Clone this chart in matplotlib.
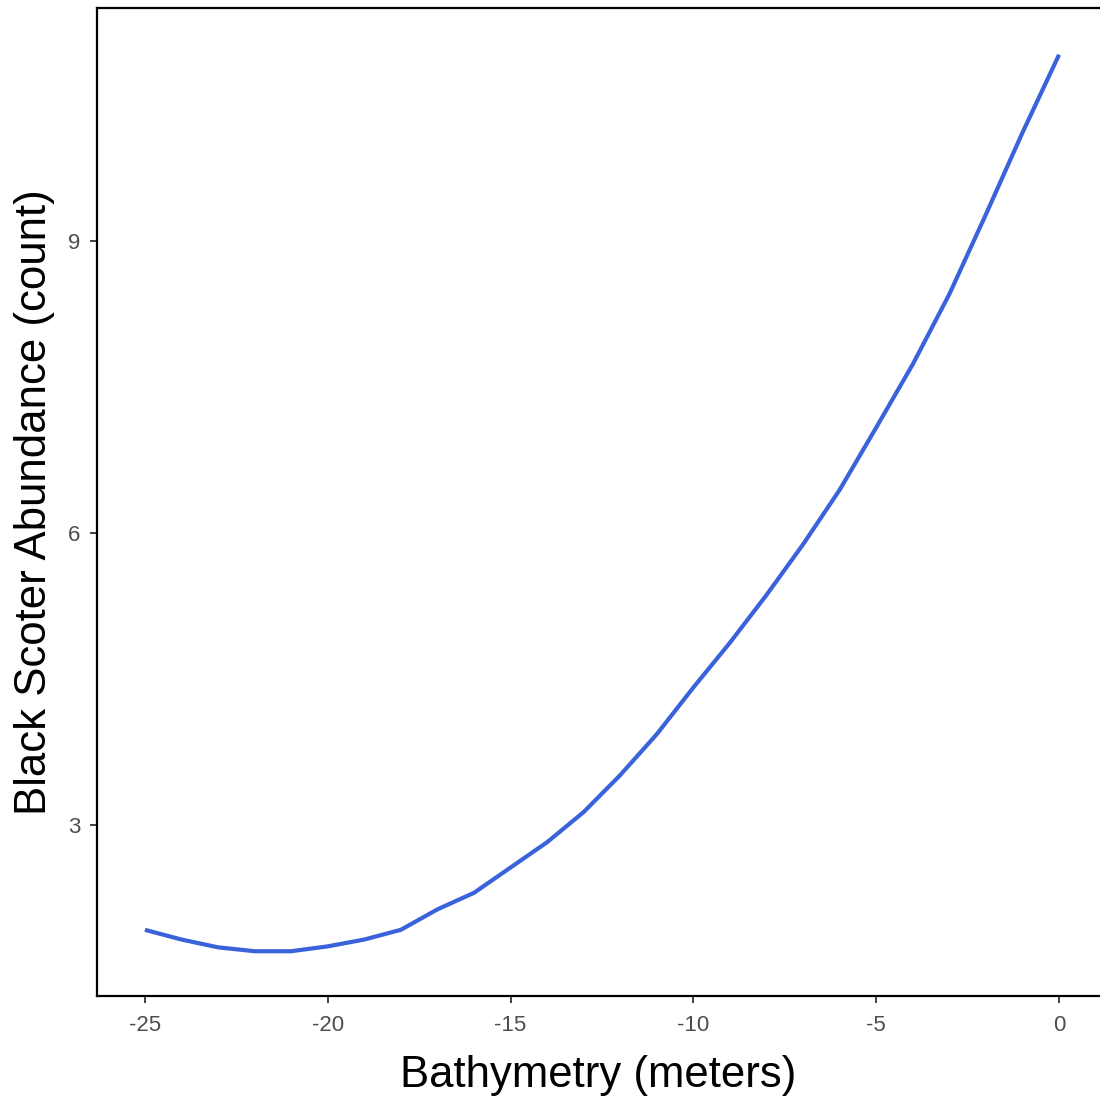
import matplotlib
matplotlib.use("Agg")
import matplotlib.pyplot as plt

bathymetry = [-25, -24, -23, -22, -21, -20, -19, -18, -17, -16, -15, -14, -13,
              -12, -11, -10, -9, -8, -7, -6, -5, -4, -3, -2, -1, 0]
abundance = [1.92, 1.82, 1.74, 1.70, 1.70, 1.75, 1.82, 1.92, 2.13, 2.30, 2.56,
             2.82, 3.13, 3.51, 3.93, 4.41, 4.87, 5.36, 5.88, 6.44, 7.08, 7.73,
             8.45, 9.27, 10.11, 10.91]
x_ticks = [-25, -20, -15, -10, -5, 0]
y_ticks = [3, 6, 9]

plt.rcParams['font.family'] = ['Liberation Sans', 'DejaVu Sans']

fig = plt.figure(figsize=(11, 10.99), dpi=100)
ax = fig.add_axes([97/1100, 1 - 996/1099, 1 - 97/1100, (996 - 8)/1099])
ax.plot(bathymetry, abundance, color='#3A62DB', linewidth=3, solid_capstyle='butt')

ax.set_xlim(-26.31, 1.12)
ax.set_ylim(1.24, 11.39)
ax.set_xticks(x_ticks)
ax.set_xticklabels([str(t) for t in x_ticks])
ax.set_yticks(y_ticks)
ax.set_yticklabels([str(t) for t in y_ticks])

for s in ['left', 'bottom', 'top']:
    ax.spines[s].set_color('black')
    ax.spines[s].set_linewidth(1.6)
ax.spines['right'].set_visible(False)

ax.tick_params(axis='both', colors='#333333', labelcolor='#4D4D4D',
               labelsize=16, length=5, width=1.3)
ax.tick_params(axis='x', pad=9)
ax.tick_params(axis='y', pad=7)

ax.set_xlabel('Bathymetry (meters)', fontsize=31.5, color='black', labelpad=13)
ax.set_ylabel('Black Scoter Abundance (count)', fontsize=31.5, color='black', labelpad=9)

fig.savefig('out.png', dpi=100)
